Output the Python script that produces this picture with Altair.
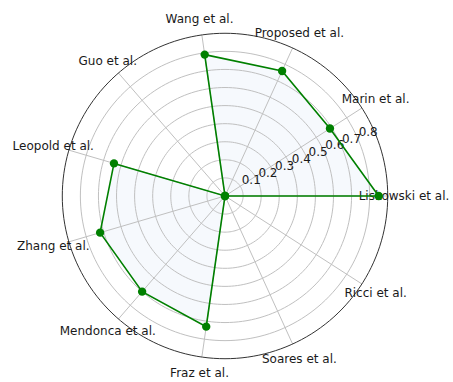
import altair as alt
import numpy as np
import pandas as pd

categories = ["Liskowski et al.", "Marin et al.", "Proposed et al.", "Wang et al.",
              "Guo et al.", "Leopold et al.", "Zhang et al.", "Mendonca et al.",
              "Fraz et al.", "Soares et al.", "Ricci et al."]
values = [0.85, 0.69, 0.76, 0.79, 0.0, 0.64, 0.72, 0.70, 0.73, 0.0, 0.0]
ring_ticks = [0.1, 0.2, 0.3, 0.4, 0.5, 0.6, 0.7, 0.8]
ring_labels = ["0.1", "0.2", "0.3", "0.4", "0.5", "0.6", "0.7", "0.8"]
r_max = 0.9

N = len(categories)
FONT = "DejaVu Sans"

data = pd.DataFrame({"idx": list(range(N)), "cat": categories, "r": values})

# circles (grid rings + outer spine)
ang = np.arange(0, 361, 2)
ring_rows = []
for rv in ring_ticks:
    for a in ang:
        ring_rows.append({"ring": rv, "deg": float(a), "outer": 0})
for a in ang:
    ring_rows.append({"ring": r_max, "deg": float(a), "outer": 1})
rings = pd.DataFrame(ring_rows)

spokes = pd.DataFrame({"idx": list(range(N)), "r0": [0.0] * N, "r1": [r_max] * N})
labels_df = pd.DataFrame({"idx": list(range(N)), "cat": categories, "rl": [r_max * 1.1] * N})
rlab = pd.DataFrame({"r": ring_ticks, "txt": ring_labels})

xs = alt.Scale(domain=[-1.2445, 1.261], nice=False, zero=False)
ys = alt.Scale(domain=[-1.0288, 1.084], nice=False, zero=False)
TH = f"datum.idx * 2 * PI / {N}"

def X(field):
    return alt.X(field, type="quantitative", scale=xs, axis=None)

def Y(field):
    return alt.Y(field, type="quantitative", scale=ys, axis=None)

fill = alt.Chart(data).transform_calculate(
    px=f"datum.r * cos({TH})", py=f"datum.r * sin({TH})"
).mark_line(interpolate="linear-closed", fill="#f6f9fd", strokeOpacity=0).encode(
    x=X("px"), y=Y("py"), order=alt.Order("idx:Q")
)

grid = alt.Chart(rings).transform_filter("datum.outer == 0").transform_calculate(
    px="datum.ring * cos(datum.deg * PI / 180)", py="datum.ring * sin(datum.deg * PI / 180)"
).mark_line(color="#c0c0c0", strokeWidth=1).encode(
    x=X("px"), y=Y("py"), detail="ring:N", order=alt.Order("deg:Q")
)

spoke = alt.Chart(spokes).transform_calculate(
    x0=f"datum.r0 * cos({TH})", y0=f"datum.r0 * sin({TH})",
    x1=f"datum.r1 * cos({TH})", y1=f"datum.r1 * sin({TH})"
).mark_rule(color="#c0c0c0", strokeWidth=1).encode(
    x=X("x0"), y=Y("y0"), x2="x1:Q", y2="y1:Q"
)

outer = alt.Chart(rings).transform_filter("datum.outer == 1").transform_calculate(
    px="datum.ring * cos(datum.deg * PI / 180)", py="datum.ring * sin(datum.deg * PI / 180)"
).mark_line(color="#333333", strokeWidth=1).encode(
    x=X("px"), y=Y("py"), order=alt.Order("deg:Q")
)

rtext = alt.Chart(rlab).transform_calculate(
    px="datum.r * cos(22.5 * PI / 180)", py="datum.r * sin(22.5 * PI / 180)"
).mark_text(align="left", baseline="bottom", dy=-2, fontSize=12, font=FONT, color="#1a1a1a").encode(
    x=X("px"), y=Y("py"), text="txt:N"
)

ctext = alt.Chart(labels_df).transform_calculate(
    px=f"datum.rl * cos({TH})", py=f"datum.rl * sin({TH})"
).mark_text(align="center", baseline="middle", fontSize=12, font=FONT, color="#1a1a1a").encode(
    x=X("px"), y=Y("py"), text="cat:N"
)

line = alt.Chart(data).transform_calculate(
    px=f"datum.r * cos({TH})", py=f"datum.r * sin({TH})"
).mark_line(interpolate="linear-closed", color="#008000", strokeWidth=1.6).encode(
    x=X("px"), y=Y("py"), order=alt.Order("idx:Q")
)

pts = alt.Chart(data).transform_calculate(
    px=f"datum.r * cos({TH})", py=f"datum.r * sin({TH})"
).mark_circle(color="#008000", size=70, opacity=1).encode(
    x=X("px"), y=Y("py")
)

chart = alt.layer(fill, grid, spoke, outer, rtext, ctext, line, pts).properties(
    width=453, height=382, padding=0,
    autosize=alt.AutoSizeParams(type="none"),
    background="white"
).configure_view(stroke=None)

chart.save("out.html", embed_options={"renderer": "svg", "actions": False})
